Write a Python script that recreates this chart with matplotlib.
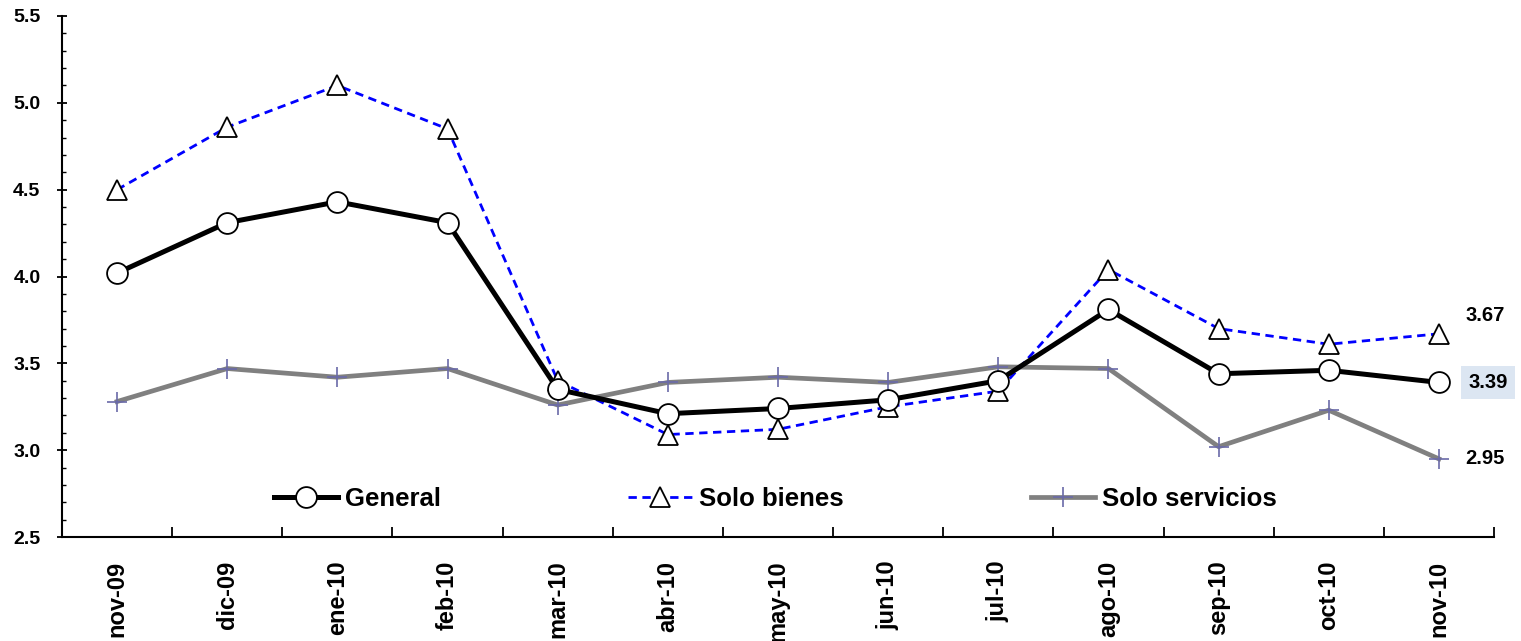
import matplotlib
matplotlib.use("Agg")
import matplotlib.pyplot as plt
from matplotlib.ticker import MultipleLocator, FixedLocator, FormatStrFormatter

plt.rcParams['font.family'] = ['Liberation Sans', 'DejaVu Sans']
plt.rcParams['font.weight'] = 'bold'

months = ['nov-09', 'dic-09', 'ene-10', 'feb-10', 'mar-10', 'abr-10', 'may-10',
          'jun-10', 'jul-10', 'ago-10', 'sep-10', 'oct-10', 'nov-10']
general = [4.02, 4.31, 4.43, 4.31, 3.35, 3.21, 3.24, 3.29, 3.40, 3.81, 3.44, 3.46, 3.39]
bienes = [4.50, 4.86, 5.10, 4.85, 3.40, 3.09, 3.12, 3.25, 3.34, 4.04, 3.70, 3.61, 3.67]
servicios = [3.28, 3.47, 3.42, 3.47, 3.26, 3.39, 3.42, 3.39, 3.48, 3.47, 3.02, 3.23, 2.95]

x = list(range(len(months)))

fig = plt.figure(figsize=(15.21, 6.41), dpi=100)
ax = fig.add_axes([62 / 1521, 104 / 641, 1432 / 1521, 521 / 641])

ax.plot(x, general, color='black', lw=3.6, marker='o', ms=15,
        mfc='white', mec='black', mew=1.3, label='General', zorder=4)
ax.plot(x, bienes, color='#0000ff', lw=2, ls=(0, (3, 2)), marker='^', ms=14,
        mfc='white', mec='black', mew=1.3, label='Solo bienes', zorder=3)
ax.plot(x, servicios, color='#808080', lw=3.4, marker='+', ms=14,
        mec='#6a6aa8', mew=1.2, label='Solo servicios', zorder=2)

# end-of-series labels
last = len(months) - 1
ax.annotate(f"{bienes[last]:.2f}", (last, bienes[last]), xytext=(19, 13),
            textcoords='offset points', fontsize=14.5, fontweight='bold',
            va='center', ha='left', annotation_clip=False)
ax.annotate(f"{general[last]:.2f}", (last, general[last]), xytext=(21, 0),
            textcoords='offset points', fontsize=14.5, fontweight='bold',
            va='center', ha='left', annotation_clip=False,
            bbox=dict(boxstyle='square,pad=0.35', fc='#dce6f2', ec='none'))
ax.annotate(f"{servicios[last]:.2f}", (last, servicios[last]), xytext=(19, 0),
            textcoords='offset points', fontsize=14.5, fontweight='bold',
            va='center', ha='left', annotation_clip=False)

ax.set_xlim(-0.5, len(months) - 0.5)
ax.set_ylim(2.5, 5.5)

ax.spines['top'].set_visible(False)
ax.spines['right'].set_visible(False)
ax.spines['left'].set_linewidth(1.5)
ax.spines['bottom'].set_linewidth(1.5)

ax.set_xticks(x)
ax.set_xticklabels(months, rotation=90, fontsize=17, fontweight='bold')
ax.xaxis.set_minor_locator(FixedLocator([i + 0.5 for i in range(-1, len(months))]))
ax.tick_params(axis='x', which='major', length=0, pad=17)
ax.tick_params(axis='x', which='minor', direction='in', length=7, width=1.3)

ax.yaxis.set_major_locator(MultipleLocator(0.5))
ax.yaxis.set_minor_locator(MultipleLocator(0.1))
ax.yaxis.set_major_formatter(FormatStrFormatter('%.1f'))
ax.tick_params(axis='y', which='major', direction='inout', length=7, width=1.3,
               labelsize=14, pad=12)
ax.tick_params(axis='y', which='minor', direction='in', length=3, width=1)
for lab in ax.get_yticklabels():
    lab.set_fontweight('bold')

ax.legend(loc='center', bbox_to_anchor=(0.498, 0.073), ncol=3, frameon=False,
          handlelength=2.5, handletextpad=0.25, columnspacing=7.3,
          prop={'weight': 'bold', 'size': 18.5})

fig.savefig('out.png', dpi=100)
